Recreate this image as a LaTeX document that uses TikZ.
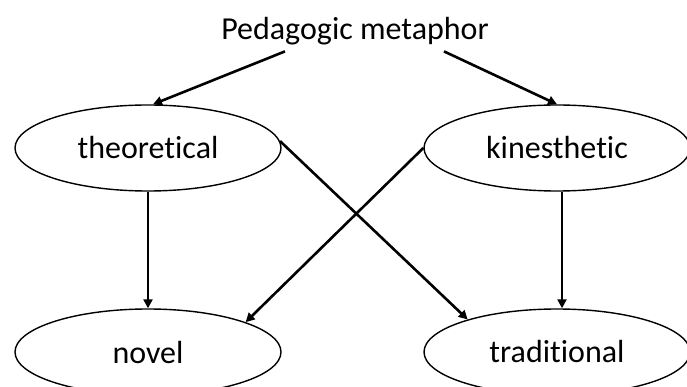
\documentclass[tikz,border=0pt]{standalone}
\usepackage{fontspec}
\setmainfont{Carlito}[Ligatures=NoCommon]
\usetikzlibrary{shapes.geometric,arrows.meta,calc}
\begin{document}
\begin{tikzpicture}[x=1pt,y=-1pt,
  oval/.style={draw,ellipse,line width=1.4pt,minimum width=266pt,minimum height=86pt,inner sep=0pt},
  link/.style={line width=2.6pt,-{Triangle[length=9pt,width=9pt]}},
  every node/.style={font=\fontsize{32}{38}\selectfont}]
\useasboundingbox (0,0) rectangle (687,387);
\node (title) at (355,31) {Pedagogic metaphor};
\node[oval] (theo)  at (148,148) {theoretical};
\node[oval] (kin)   at (557,148) {kinesthetic};
\node[oval] (novel) at (148,352) {novel};
\node[oval] (trad)  at (557,352) {traditional};
\draw[link] ($(title.south)+(-70,3)$) -- ([xshift=5pt]theo.north);
\draw[link] ($(title.south)+(89,3)$) -- (kin.north);
\draw[link] (theo.south) -- (novel.north);
\draw[link] ([xshift=5pt]kin.south) -- ([xshift=5pt]trad.north);
\draw[link] (theo.3) -- (trad.160);
\draw[link] (kin.180) -- (novel.17);
\end{tikzpicture}
\end{document}
